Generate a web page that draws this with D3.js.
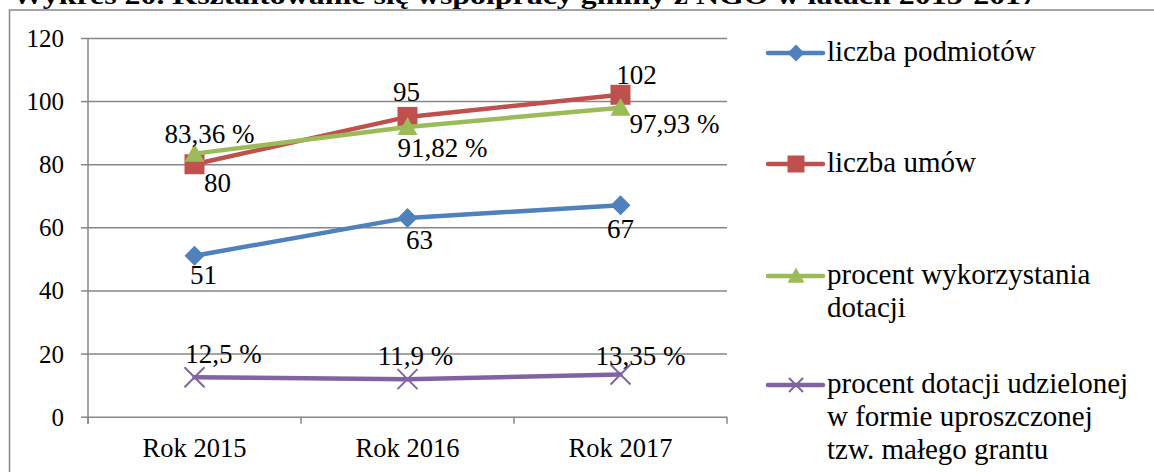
<!DOCTYPE html>
<html>
<head>
<meta charset="utf-8">
<script src="https://cdn.jsdelivr.net/npm/d3@7"></script>
<style>
  body { margin: 0; background: #fff; }
  svg { display: block; font-family: "Liberation Serif", "Times New Roman", serif; }
</style>
</head>
<body>
<svg id="chart" width="1154" height="472"></svg>
<script>
// data
var years = ["Rok 2015", "Rok 2016", "Rok 2017"];
var podmioty = [51, 63, 67];
var umowy = [80, 95, 102];
var wykorzystanie = [83.36, 91.82, 97.93];
var malyGrant = [12.5, 11.9, 13.35];
var yTicks = [0, 20, 40, 60, 80, 100, 120];

var titleText = "Wykres 20. Kształtowanie się współpracy gminy z NGO w latach 2015-2017";

var series = [
    {name: ["liczba podmiotów"], values: podmioty, color: "#4f81bd", marker: "diamond",
     fmt: function(v) { return String(v); },
     off: [[9, 28], [12, 31], [0, 33]]},
    {name: ["liczba umów"], values: umowy, color: "#c0504d", marker: "square",
     fmt: function(v) { return String(v); },
     off: [[23, 28], [-1, -16], [16, -11]]},
    {name: ["procent wykorzystania", "dotacji"], values: wykorzystanie, color: "#9bbb59", marker: "triangle",
     fmt: function(v) { return d3.format(".2f")(v).replace(".", ",") + " %"; },
     off: [[15, -11], [35, 30], [54, 25]]},
    {name: ["procent dotacji udzielonej", "w formie uproszczonej", "tzw. małego grantu"], values: malyGrant, color: "#8064a2", marker: "cross",
     fmt: function(v) { return String(v).replace(".", ",") + " %"; },
     off: [[29, -14], [8, -14], [20, -10]]}
];

var svg = d3.select("#chart");
var gridColor = "#868686";

// outer frame (runs off the right and bottom edge)
svg.append("rect")
   .attr("x", 9.5).attr("y", 10)
   .attr("width", 1200).attr("height", 500)
   .attr("fill", "none")
   .attr("stroke", gridColor)
   .attr("stroke-width", 1.5);

// title, cut at the top like in the scan
svg.append("text")
   .attr("x", 12).attr("y", 3.5)
   .attr("font-size", 26)
   .attr("font-weight", "bold")
   .attr("textLength", 1025)
   .attr("lengthAdjust", "spacingAndGlyphs")
   .text(titleText);

var plotLeft = 88, plotRight = 727, plotTop = 38, plotBottom = 416.7;

var xScale = d3.scaleBand()
               .domain(years)
               .range([plotLeft, plotRight]);

var yScale = d3.scaleLinear()
               .domain([0, 120])
               .range([plotBottom, plotTop]);

// horizontal grid
svg.append("g")
   .attr("transform", "translate(" + plotLeft + ",0)")
   .call(d3.axisLeft(yScale).tickValues(yTicks).tickSize(-(plotRight - plotLeft)).tickFormat(""))
   .call(function(g) {
       g.select(".domain").remove();
       g.selectAll("line").attr("stroke", gridColor).attr("stroke-width", 1.5);
   });

// y axis with outer ticks and labels
var yAxis = svg.append("g")
   .attr("transform", "translate(" + plotLeft + ",0)")
   .call(d3.axisLeft(yScale).tickValues(yTicks).tickSize(7).tickSizeOuter(0).tickPadding(17));
yAxis.select(".domain").attr("stroke", gridColor).attr("stroke-width", 1.5)
     .attr("d", "M0," + (plotBottom + 7) + "V" + plotTop);
yAxis.selectAll("line").attr("stroke", gridColor).attr("stroke-width", 1.5);
yAxis.selectAll("text")
     .attr("font-family", "Liberation Serif")
     .attr("font-size", 25)
     .attr("fill", "#000")
     .attr("dy", "0.34em");

// x axis: ticks at category edges
var edges = years.map(function(d) { return xScale(d); }).concat([plotRight]);
svg.append("g").selectAll("line")
   .data(edges)
   .enter()
   .append("line")
   .attr("x1", function(d) { return d; })
   .attr("x2", function(d) { return d; })
   .attr("y1", plotBottom)
   .attr("y2", plotBottom + 7)
   .attr("stroke", gridColor)
   .attr("stroke-width", 1.5);

svg.append("g").selectAll("text")
   .data(years)
   .enter()
   .append("text")
   .attr("x", function(d) { return xScale(d) + xScale.bandwidth() / 2; })
   .attr("y", 456.5)
   .attr("text-anchor", "middle")
   .attr("font-size", 26.5)
   .text(function(d) { return d; });

// markers
function markerPath(type, s) {
    // s = half size
    if (type == "diamond")
        return "M0," + (-s) + "L" + s + ",0L0," + s + "L" + (-s) + ",0Z";
    if (type == "square")
        return "M" + (-s) + "," + (-s) + "H" + s + "V" + s + "H" + (-s) + "Z";
    if (type == "triangle")
        return "M0," + (-s) + "L" + s + "," + (s * 0.8) + "H" + (-s) + "Z";
    return "M" + (-s) + "," + (-s) + "L" + s + "," + s + "M" + s + "," + (-s) + "L" + (-s) + "," + s;
}

function drawMarker(g, type, color, s) {
    var p = g.append("path").attr("d", markerPath(type, s));
    if (type == "cross")
        p.attr("fill", "none").attr("stroke", color).attr("stroke-width", 2);
    else
        p.attr("fill", color);
}

var line = d3.line()
             .x(function(d, i) { return xScale(years[i]) + xScale.bandwidth() / 2; })
             .y(function(d) { return yScale(d); });

series.forEach(function(s) {
    svg.append("path")
       .datum(s.values)
       .attr("d", line)
       .attr("fill", "none")
       .attr("stroke", s.color)
       .attr("stroke-width", 4.5)
       .attr("stroke-linejoin", "round")
       .attr("stroke-linecap", "round");

    s.values.forEach(function(v, i) {
        var cx = xScale(years[i]) + xScale.bandwidth() / 2;
        var cy = yScale(v);
        var g = svg.append("g").attr("transform", "translate(" + cx + "," + cy + ")");
        drawMarker(g, s.marker, s.color, s.marker == "triangle" ? 10 : 10);
    });
});

// data labels
series.forEach(function(s) {
    s.values.forEach(function(v, i) {
        var cx = xScale(years[i]) + xScale.bandwidth() / 2;
        var cy = yScale(v);
        svg.append("text")
           .attr("x", cx + s.off[i][0])
           .attr("y", cy + s.off[i][1])
           .attr("text-anchor", "middle")
           .attr("font-size", 27)
           .text(s.fmt(v));
    });
});

// legend
var legendY = [53, 164, 276, 385];
series.forEach(function(s, k) {
    var g = svg.append("g").attr("transform", "translate(0," + legendY[k] + ")");
    g.append("line")
     .attr("x1", 768).attr("x2", 823)
     .attr("y1", 0).attr("y2", 0)
     .attr("stroke", s.color)
     .attr("stroke-width", 4.5)
     .attr("stroke-linecap", "round");
    var m = g.append("g").attr("transform", "translate(796,0)");
    drawMarker(m, s.marker, s.color, s.marker == "cross" ? 7 : 8.5);
    g.append("text")
     .attr("x", 827)
     .attr("y", 8)
     .attr("font-size", 29)
     .selectAll("tspan")
     .data(s.name)
     .enter()
     .append("tspan")
     .attr("x", 827)
     .attr("dy", function(d, j) { return j == 0 ? 0 : 33; })
     .text(function(d) { return d; });
});
</script>
</body>
</html>
